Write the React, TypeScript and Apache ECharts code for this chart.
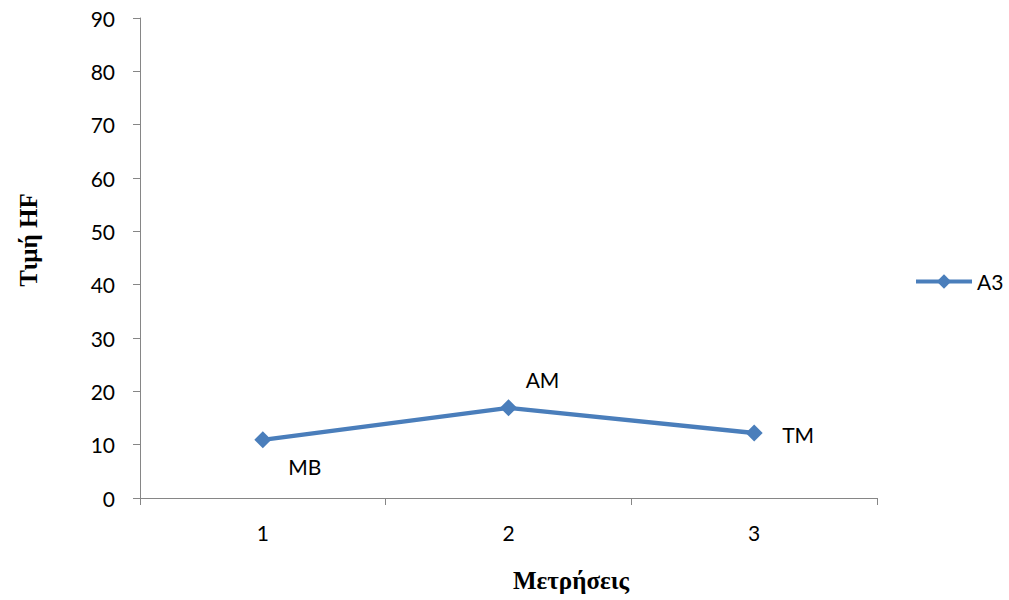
import React, { useEffect, useRef } from "react";
import * as echarts from "echarts";

const categories = ["1", "2", "3"];
const values = [10.9, 16.9, 12.2];
const pointLabels = ["MB", "AM", "TM"];
const seriesName = "A3";
const yTitle = "Τιμή HF";
const xTitle = "Μετρήσεις";

export default function App() {
  const ref = useRef<HTMLDivElement>(null);
  useEffect(() => {
    document.body.style.margin = "0";
    const chart = echarts.init(ref.current!, null, { renderer: "svg" });
    const labelOffsets = [
      [42, 27],
      [34, -28],
      [44, 2],
    ];
    chart.setOption({
      animation: false,
      backgroundColor: "#ffffff",
      textStyle: { fontFamily: "Lato" },
      grid: { left: 140, right: 132, top: 18, bottom: 102 },
      legend: {
        data: [seriesName],
        left: 909,
        top: 266,
        orient: "vertical",
        itemWidth: 56,
        itemHeight: 18,
        itemGap: 4,
        lineStyle: { width: 4 },
        textStyle: { fontSize: 21, color: "#000", fontFamily: "Lato" },
      },
      xAxis: {
        type: "category",
        data: categories,
        boundaryGap: true,
        axisLine: { lineStyle: { color: "#868686", width: 1 } },
        axisTick: { show: true, alignWithLabel: false, length: 7, lineStyle: { color: "#868686" } },
        axisLabel: { color: "#000", fontSize: 21, margin: 24, fontFamily: "Lato" },
        splitLine: { show: false },
      },
      yAxis: {
        type: "value",
        min: 0,
        max: 90,
        interval: 10,
        axisLine: { show: true, lineStyle: { color: "#868686", width: 1 } },
        axisTick: { show: true, length: 7, lineStyle: { color: "#868686" } },
        axisLabel: { color: "#000", fontSize: 21, margin: 25, fontFamily: "Lato" },
        splitLine: { show: false },
      },
      graphic: [
        {
          type: "text",
          x: 28,
          y: 240,
          rotation: Math.PI / 2,
          style: {
            text: yTitle,
            fontFamily: "Liberation Serif",
            fontWeight: "bold",
            fontSize: 25,
            fill: "#000",
            align: "center",
            verticalAlign: "middle",
          },
        },
        {
          type: "text",
          x: 571,
          y: 580,
          style: {
            text: xTitle,
            fontFamily: "Liberation Serif",
            fontWeight: "bold",
            fontSize: 25,
            fill: "#000",
            align: "center",
            verticalAlign: "middle",
          },
        },
      ],
      series: [
        {
          name: seriesName,
          type: "line",
          data: values.map((v, i) => ({
            value: v,
            label: {
              show: true,
              formatter: pointLabels[i],
              position: "inside",
              offset: labelOffsets[i],
              color: "#000",
              fontSize: 21,
              fontFamily: "Lato",
            },
          })),
          symbol: "diamond",
          symbolSize: 17,
          lineStyle: { color: "#4a7ebb", width: 4.5 },
          itemStyle: { color: "#4a7ebb" },
        },
      ],
    });
    return () => chart.dispose();
  }, []);
  return <div ref={ref} style={{ width: 1009, height: 600 }} />;
}
